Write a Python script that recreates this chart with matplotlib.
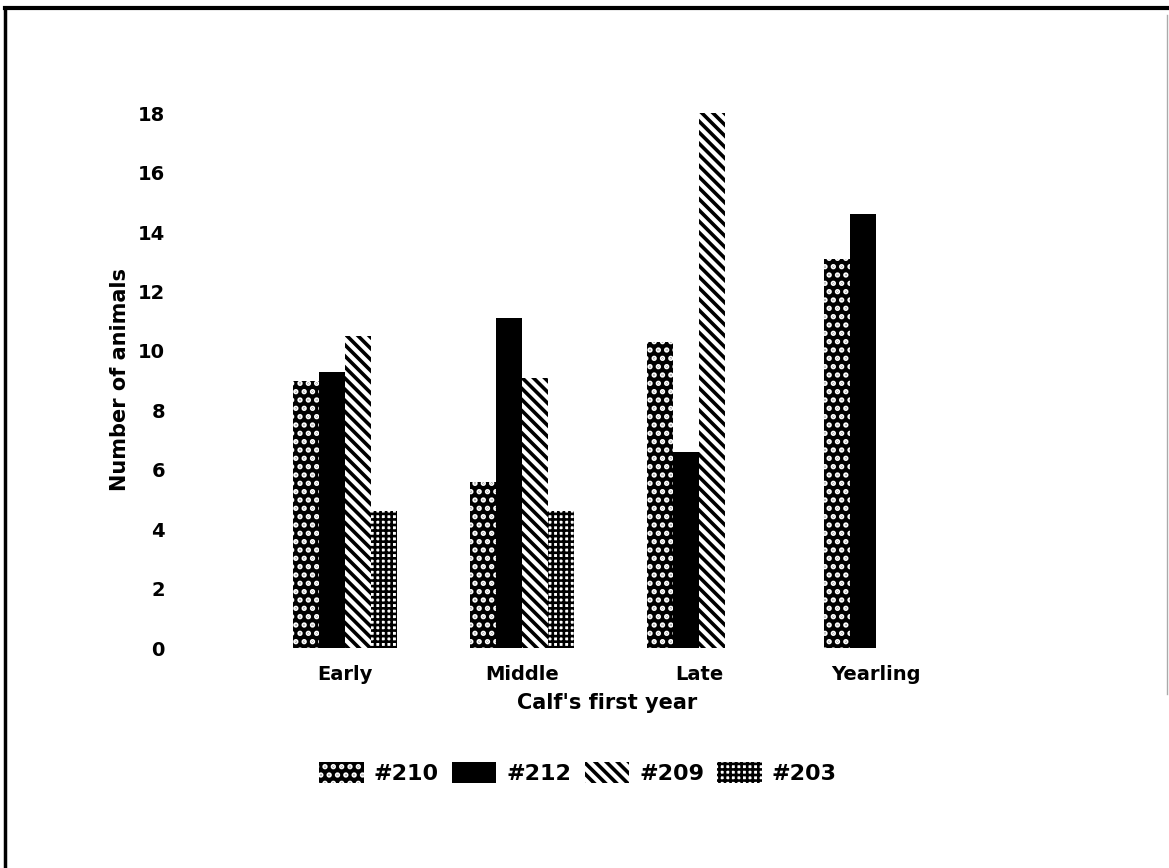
import matplotlib
matplotlib.use('Agg')
import matplotlib.pyplot as plt
from matplotlib.patches import Patch
from matplotlib.lines import Line2D
import numpy as np

plt.rcParams['font.family'] = ['DejaVu Sans']
plt.rcParams['font.weight'] = 'bold'
plt.rcParams['axes.labelweight'] = 'bold'

categories = ['Early', 'Middle', 'Late', 'Yearling']
series = ['#210', '#212', '#209', '#203']
v210 = [9.0, 5.6, 10.3, 13.1]
v212 = [9.3, 11.1, 6.6, 14.6]
v209 = [10.5, 9.1, 18.0, 0]
v203 = [4.6, 4.6, 0, 0]
yticks = [0, 2, 4, 6, 8, 10, 12, 14, 16, 18]

W, H = 1169, 868
fig = plt.figure(figsize=(W / 100, H / 100), dpi=100)

# axes placed in pixel terms: x=0 -> 345px, 1 unit = 177px ; y=0 -> 648px, 1 unit = 29.7px
ax_l, ax_r = 190, 1000
ax_b, ax_t = 648, 80
ax = fig.add_axes([ax_l / W, (H - ax_b) / H, (ax_r - ax_l) / W, (ax_b - ax_t) / H])
ax.set_xlim(-(345 - ax_l) / 177, (ax_r - 345) / 177)
ax.set_ylim(0, (ax_b - ax_t) / 29.7)

styles = [
    dict(facecolor='black', edgecolor='white', hatch='..'),
    dict(facecolor='black', edgecolor='black', hatch=None),
    dict(facecolor='white', edgecolor='black', hatch='\\\\\\'),
    dict(facecolor='white', edgecolor='black', hatch='+++'),
]
hatch_lw = [2.6, 2.6, 2.6, 1.9]
plt.rcParams['hatch.linewidth'] = 2.6


def set_hlw(patch, lw):
    if hasattr(patch, 'set_hatch_linewidth'):
        patch.set_hatch_linewidth(lw)


x = np.arange(len(categories))
bw = 104 / 177 / 4
for i, vals in enumerate([v210, v212, v209, v203]):
    pos = x - 2 * bw + bw * (i + 0.5)
    bars = ax.bar(pos, vals, width=bw, linewidth=0, **styles[i])
    for b in bars:
        set_hlw(b, hatch_lw[i])

for s in ax.spines.values():
    s.set_visible(False)
ax.set_yticks(yticks)
ax.set_xticks(x)
ax.set_xticklabels(categories)
ax.tick_params(length=0, labelsize=14)
ax.tick_params(axis='y', pad=18)
ax.tick_params(axis='x', pad=12)
ax.set_xlabel("Calf's first year", fontsize=15)
ax.set_ylabel('Number of animals', fontsize=15)
ax.xaxis.set_label_coords((607 - ax_l) / (ax_r - ax_l), -(703 - ax_b) / (ax_b - ax_t), transform=ax.transAxes)
ax.xaxis.label.set_va('center')
ax.yaxis.set_label_coords(-(ax_l - 120) / (ax_r - ax_l), (ax_b - 380) / (ax_b - ax_t), transform=ax.transAxes)
ax.yaxis.label.set_va('center')

handles = [Patch(linewidth=0, **st) for st in styles]
for h, lw in zip(handles, hatch_lw):
    set_hlw(h, lw)
leg = fig.legend(handles, series, loc='center', bbox_to_anchor=(578 / W, (H - 773) / H),
                 ncol=4, frameon=False, fontsize=16, handlelength=2.0, handleheight=1.1,
                 handletextpad=0.45, columnspacing=0.6)
for h, lw in zip(leg.get_patches(), hatch_lw):
    set_hlw(h, lw)

# page border
fig.add_artist(Line2D([5 / W, 5 / W], [0, 1 - 8 / H], color='black', lw=2.5))
fig.add_artist(Line2D([5 / W, 1], [1 - 8 / H, 1 - 8 / H], color='black', lw=3))
fig.add_artist(Line2D([1167 / W, 1167 / W], [0.2, 1 - 15 / H], color='#aaaaaa', lw=1))

fig.savefig('out.png', dpi=100)
